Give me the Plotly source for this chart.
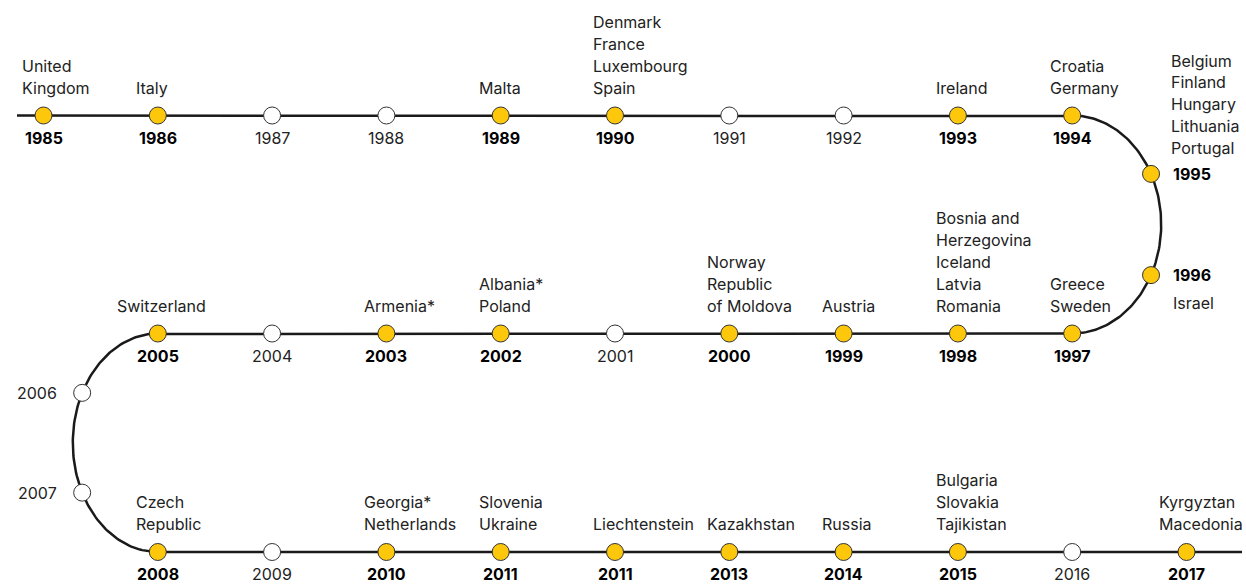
import numpy as np
import plotly.graph_objects as go

# ---------------- data ----------------
years = ["1985", "1986", "1987", "1988", "1989", "1990", "1991", "1992", "1993", "1994",
         "1995", "1996",
         "1997", "1998", "1999", "2000", "2001", "2002", "2003", "2004", "2005",
         "2006", "2007",
         "2008", "2009", "2010", "2011", "2011", "2013", "2014", "2015", "2016", "2017"]

countries = [
    ["United Kingdom"], ["Italy"], [], [], ["Malta"],
    ["Denmark", "France", "Luxembourg", "Spain"], [], [], ["Ireland"], ["Croatia", "Germany"],
    ["Belgium", "Finland", "Hungary", "Lithuania", "Portugal"], ["Israel"],
    ["Greece", "Sweden"], ["Bosnia and Herzegovina", "Iceland", "Latvia", "Romania"], ["Austria"],
    ["Norway", "Republic of Moldova"], [], ["Albania*", "Poland"], ["Armenia*"], [], ["Switzerland"],
    [], [],
    ["Czech Republic"], [], ["Georgia*", "Netherlands"], ["Slovenia", "Ukraine"], ["Liechtenstein"],
    ["Kazakhstan"], ["Russia"], ["Bulgaria", "Slovakia", "Tajikistan"], [], ["Kyrgyztan", "Macedonia"],
]

# how long names wrap in the labels
wrap = {
    "United Kingdom": ["United", "Kingdom"],
    "Bosnia and Herzegovina": ["Bosnia and", "Herzegovina"],
    "Republic of Moldova": ["Republic", "of Moldova"],
    "Czech Republic": ["Czech", "Republic"],
}

# ---------------- layout geometry ----------------
PAGE_W, PAGE_H = 1246, 585
ROW_Y = [115.5, 333.5, 552.0]
X0, DX = 43.5, 114.3
ARC_RX = {"right": 89.0, "left": 85.0}
LINE_START_X, LINE_END_X = 17.0, 1242.0
LABEL_DX = {"2005": -19, "2017": -6}  # per-label nudge (px)
LINE_GAP = 21.8           # vertical distance between label lines (px)

YELLOW = "#FDC70C"
INK = "#1a1a1a"
TEXT = "#222222"
FONT = "Inter"
FS = 16


def col_x(c):
    return X0 + DX * c


def arc_xy(side, cx, y_top, y_bot, theta):
    cy = (y_top + y_bot) / 2
    ry = (y_bot - y_top) / 2
    rx = ARC_RX[side]
    s = 1 if side == "right" else -1
    return cx + s * rx * np.sin(theta), cy - ry * np.cos(theta)


def arc_theta_at_fraction(side, y_top, y_bot, fracs):
    th = np.linspace(0, np.pi, 2001)
    x, y = arc_xy(side, 0, y_top, y_bot, th)
    seg = np.hypot(np.diff(x), np.diff(y))
    cum = np.concatenate([[0], np.cumsum(seg)])
    return np.interp(np.array(fracs) * cum[-1], cum, th)


# stations along the snake: (x, y, kind)
stations = []
for c in range(10):
    stations.append((col_x(c), ROW_Y[0], "top"))
thr = arc_theta_at_fraction("right", ROW_Y[0], ROW_Y[1], [1 / 3, 2 / 3])
for k, t in enumerate(thr):
    x, y = arc_xy("right", col_x(9), ROW_Y[0], ROW_Y[1], t)
    stations.append((x, y, "rarc_up" if k == 0 else "rarc_low"))
for c in range(9, 0, -1):
    stations.append((col_x(c), ROW_Y[1], "top"))
thl = arc_theta_at_fraction("left", ROW_Y[1], ROW_Y[2], [1 / 3, 2 / 3])
for t in thl:
    x, y = arc_xy("left", col_x(1), ROW_Y[1], ROW_Y[2], t)
    stations.append((x, y, "larc"))
for c in range(1, 11):
    stations.append((col_x(c), ROW_Y[2], "top"))

# snake path
th = np.linspace(0, np.pi, 120)
rx_, ry_ = arc_xy("right", col_x(9), ROW_Y[0], ROW_Y[1], th)
lx_, ly_ = arc_xy("left", col_x(1), ROW_Y[1], ROW_Y[2], th)
path_x = [LINE_START_X] + list(rx_) + list(lx_) + [LINE_END_X]
path_y = [ROW_Y[0]] + list(ry_) + list(ly_) + [ROW_Y[2]]

fig = go.Figure()
fig.add_trace(go.Scatter(x=path_x, y=path_y, mode="lines",
                         line=dict(color=INK, width=2.5), hoverinfo="skip"))

sx = [s[0] for s in stations]
sy = [s[1] for s in stations]
joined = [len(c) > 0 for c in countries]
fig.add_trace(go.Scatter(
    x=sx, y=sy, mode="markers",
    marker=dict(size=17, color=[YELLOW if j else "white" for j in joined],
                line=dict(color="#333333", width=1)),
    text=years, hoverinfo="text"))


def label_lines(cs):
    out = []
    for c in cs:
        out.extend(wrap.get(c, [c]))
    return out


ann = []


def add(x, y, text, xanchor, color=TEXT):
    ann.append(dict(x=x, y=y, text=text, xanchor=xanchor, yanchor="middle",
                    showarrow=False, xref="x", yref="y",
                    font=dict(family=FONT, size=FS, color=color)))


for (x, y, kind), yr, cs, j in zip(stations, years, countries, joined):
    ytxt = f"<b>{yr}</b>" if j else yr
    ycol = "#000000" if j else TEXT
    lines = label_lines(cs)
    n = len(lines)
    if kind == "top":
        add(x, y + 22, ytxt, "center", ycol)
        for k, ln in enumerate(lines):
            add(x - 24 + LABEL_DX.get(yr, 0), y - 28 - LINE_GAP * (n - 1 - k), ln, "left")
    elif kind == "rarc_up":
        add(x + 20, y, ytxt, "left", ycol)
        for k, ln in enumerate(lines):
            add(x + 18, y - 26 - LINE_GAP * (n - 1 - k), ln, "left")
    elif kind == "rarc_low":
        add(x + 20, y, ytxt, "left", ycol)
        for k, ln in enumerate(lines):
            add(x + 20, y + 28 + LINE_GAP * k, ln, "left")
    else:  # left arc
        add(x - 23, y, ytxt, "right", ycol)

fig.update_layout(
    width=PAGE_W, height=PAGE_H,
    margin=dict(l=0, r=0, t=0, b=0),
    paper_bgcolor="white", plot_bgcolor="white",
    showlegend=False,
    hovermode=False,
    xaxis=dict(range=[0, PAGE_W], visible=False, fixedrange=True),
    yaxis=dict(range=[PAGE_H, 0], visible=False, fixedrange=True),
    annotations=ann,
    font=dict(family=FONT, size=FS, color=TEXT),
)

fig.write_html("out.html",
               config={"displayModeBar": False, "staticPlot": True},
               post_script="document.body.style.margin='0';"
                           "document.body.style.overflow='hidden';")
